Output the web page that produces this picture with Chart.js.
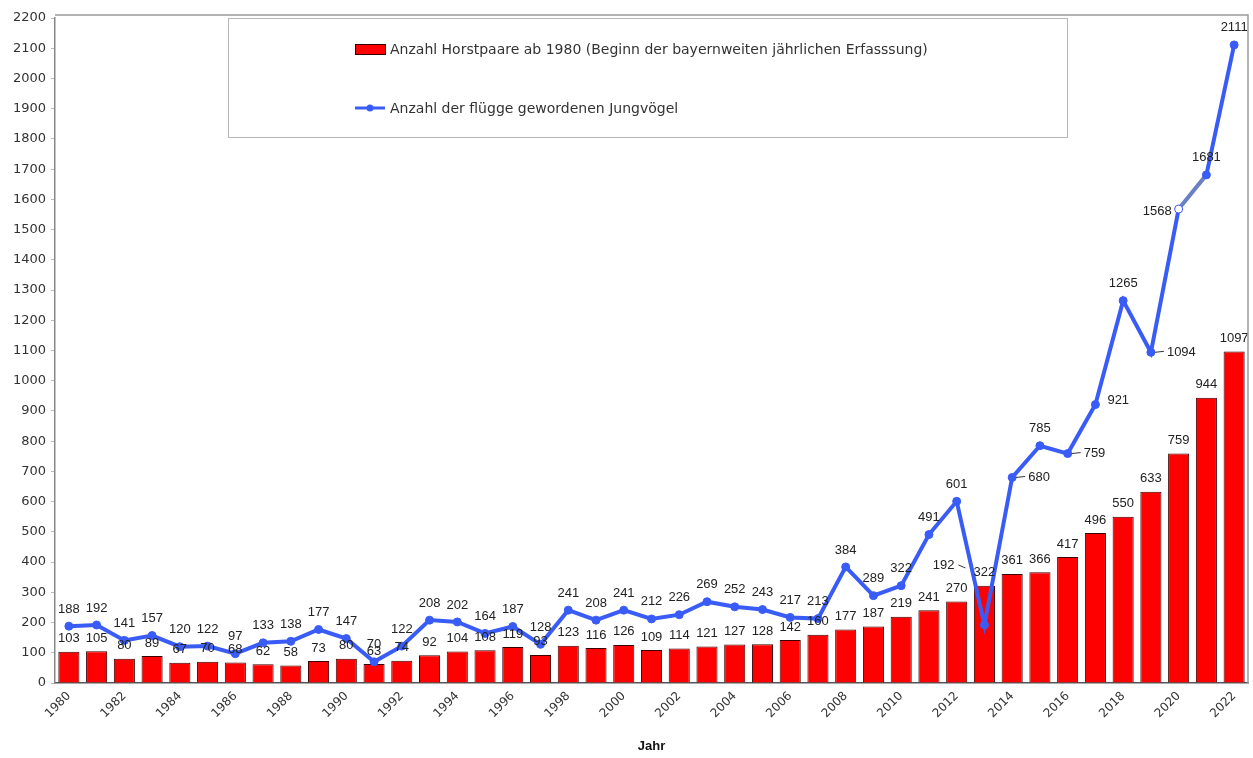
<!DOCTYPE html>
<html>
<head>
<meta charset="utf-8">
<script src="https://cdn.jsdelivr.net/npm/chart.js@4/dist/chart.umd.min.js"></script>
<style>
  html, body { margin: 0; padding: 0; background: #fff; }
  #wrap { width: 1253px; height: 758px; position: relative; }
</style>
</head>
<body>
<div id="wrap"><canvas id="chart"></canvas></div>
<script>
// Jahre (Kategorien)
const years = [
  '1980','1981','1982','1983','1984','1985','1986','1987','1988','1989',
  '1990','1991','1992','1993','1994','1995','1996','1997','1998','1999',
  '2000','2001','2002','2003','2004','2005','2006','2007','2008','2009',
  '2010','2011','2012','2013','2014','2015','2016','2017','2018','2019',
  '2020','2021','2022'
];

// Anzahl Horstpaare
const horstpaare = [
  103, 105, 80, 89, 67, 70, 68, 62, 58, 73,
  80, 63, 74, 92, 104, 108, 119, 93, 123, 116,
  126, 109, 114, 121, 127, 128, 142, 160, 177, 187,
  219, 241, 270, 322, 361, 366, 417, 496, 550, 633,
  759, 944, 1097
];

// Anzahl flügge gewordener Jungvögel
const jungvoegel = [
  188, 192, 141, 157, 120, 122, 97, 133, 138, 177,
  147, 70, 122, 208, 202, 164, 187, 128, 241, 208,
  241, 212, 226, 269, 252, 243, 217, 213, 384, 289,
  322, 491, 601, 192, 680, 785, 759, 921, 1265, 1094,
  1568, 1681, 2111
];

const barLabel = 'Anzahl Horstpaare ab 1980 (Beginn der bayernweiten jährlichen Erfasssung)';
const lineLabel = 'Anzahl der flügge gewordenen Jungvögel';

const RED = '#FF0000';
const BLUE = '#3A5CF6';
const LABEL_FONT = '13px "Liberation Sans", Arial, sans-serif';

// label placement for a few line points (index -> how to place it)
const lineLabelPlace = {
  33: { dx: -30, dy: -60, align: 'right', leader: true },
  34: { dx: 16, dy: 0, align: 'left', leader: true },
  36: { dx: 16, dy: 0, align: 'left', leader: true },
  37: { dx: 12, dy: -4, align: 'left' },
  39: { dx: 16, dy: 0, align: 'left', leader: true },
  40: { dx: -7, dy: 2, align: 'right' }
};

// draw numbers above bars and line points
const valueLabels = {
  id: 'valueLabels',
  afterDatasetsDraw(chart) {
    const ctx = chart.ctx;
    ctx.save();
    ctx.font = LABEL_FONT;
    ctx.fillStyle = '#222';
    ctx.textBaseline = 'middle';

    const barMeta = chart.getDatasetMeta(0);
    barMeta.data.forEach((el, i) => {
      ctx.textAlign = 'center';
      ctx.fillText(String(horstpaare[i]), el.x, el.y - 13);
    });

    const lineMeta = chart.getDatasetMeta(1);
    lineMeta.data.forEach((el, i) => {
      const p = lineLabelPlace[i];
      if (!p) {
        ctx.textAlign = 'center';
        ctx.fillText(String(jungvoegel[i]), el.x, el.y - 17);
        return;
      }
      const tx = el.x + p.dx, ty = el.y + p.dy;
      ctx.textAlign = p.align;
      ctx.fillText(String(jungvoegel[i]), tx, ty);
      if (p.leader) {
        ctx.strokeStyle = '#333';
        ctx.lineWidth = 1;
        ctx.beginPath();
        if (p.align === 'left') {
          ctx.moveTo(el.x + 4, el.y);
          ctx.lineTo(tx - 3, ty - 1);
        } else {
          ctx.moveTo(tx + 4, ty);
          ctx.lineTo(tx + 11, ty + 3);
        }
        ctx.stroke();
      }
    });
    ctx.restore();
  }
};

// frame around plot + legend box inside the plot
const frameAndLegend = {
  id: 'frameAndLegend',
  afterDraw(chart) {
    const ctx = chart.ctx;
    const a = chart.chartArea;
    ctx.save();
    ctx.strokeStyle = '#9a9a9a';
    ctx.lineWidth = 1.5;
    ctx.beginPath();
    ctx.moveTo(a.left, a.top - 3);
    ctx.lineTo(a.right, a.top - 3);
    ctx.lineTo(a.right, a.bottom);
    ctx.stroke();

    // legend box
    ctx.fillStyle = '#fff';
    ctx.fillRect(228, 18, 839, 119);
    ctx.strokeStyle = '#b5b5b5';
    ctx.lineWidth = 1;
    ctx.strokeRect(228.5, 18.5, 839, 119);

    const ds = chart.data.datasets;
    ctx.font = '14px "DejaVu Sans", sans-serif';
    ctx.fillStyle = '#333';
    ctx.textBaseline = 'middle';
    ctx.textAlign = 'left';

    // bar key
    ctx.fillStyle = ds[0].backgroundColor;
    ctx.fillRect(355, 44, 30, 10);
    ctx.strokeStyle = '#300';
    ctx.strokeRect(355.5, 44.5, 30, 10);
    ctx.fillStyle = '#333';
    ctx.fillText(ds[0].label, 390, 50);

    // line key
    ctx.strokeStyle = ds[1].borderColor;
    ctx.lineWidth = 3;
    ctx.beginPath();
    ctx.moveTo(355, 108);
    ctx.lineTo(385, 108);
    ctx.stroke();
    ctx.fillStyle = ds[1].borderColor;
    ctx.beginPath();
    ctx.arc(370, 108, 3.5, 0, Math.PI * 2);
    ctx.fill();
    ctx.fillStyle = '#333';
    ctx.fillText(ds[1].label, 390, 109);
    ctx.restore();
  }
};

new Chart(document.getElementById('chart'), {
  type: 'bar',
  data: {
    labels: years,
    datasets: [
      {
        type: 'bar',
        label: barLabel,
        data: horstpaare,
        backgroundColor: RED,
        borderColor: '#3a0000',
        borderWidth: 1,
        barPercentage: 0.76,
        categoryPercentage: 1.0,
        order: 2
      },
      {
        type: 'line',
        label: lineLabel,
        data: jungvoegel,
        borderColor: BLUE,
        borderWidth: 4,
        pointRadius: 4,
        pointBorderWidth: 1,
        pointBackgroundColor: ctx => ctx.dataIndex === 40 ? '#ffffff' : BLUE,
        pointBorderColor: BLUE,
        tension: 0,
        segment: {
          borderColor: ctx => ctx.p0DataIndex === 40 ? '#6A80C6' : BLUE
        },
        order: 1
      }
    ]
  },
  options: {
    responsive: true,
    maintainAspectRatio: false,
    animation: false,
    layout: { padding: { top: 18, right: 5, left: 0, bottom: 0 } },
    plugins: {
      legend: { display: false },
      tooltip: { enabled: false }
    },
    scales: {
      x: {
        grid: { drawOnChartArea: false, drawTicks: false },
        border: { color: '#555', width: 1.5 },
        ticks: {
          autoSkip: false,
          maxRotation: 45,
          minRotation: 45,
          padding: 6,
          color: '#333',
          font: { family: '"DejaVu Sans", sans-serif', size: 12 },
          callback: function (value, index) {
            return index % 2 === 0 ? this.getLabelForValue(value) : '';
          }
        },
        title: {
          display: true,
          text: 'Jahr',
          color: '#111',
          font: { family: '"Liberation Sans", Arial, sans-serif', size: 13, weight: 'bold' },
          padding: { top: 0, bottom: 4 }
        },
        afterFit: scale => { scale.height = 75; }
      },
      y: {
        min: 0,
        max: 2200,
        grid: { drawOnChartArea: false, drawTicks: true, tickLength: 4, color: '#bbb' },
        border: { color: '#888', width: 1.5 },
        ticks: {
          stepSize: 100,
          padding: 5,
          color: '#333',
          font: { family: '"DejaVu Sans", sans-serif', size: 13 },
          callback: value => String(value)
        },
        afterFit: scale => { scale.width = 55; }
      }
    }
  },
  plugins: [valueLabels, frameAndLegend]
});
</script>
</body>
</html>
